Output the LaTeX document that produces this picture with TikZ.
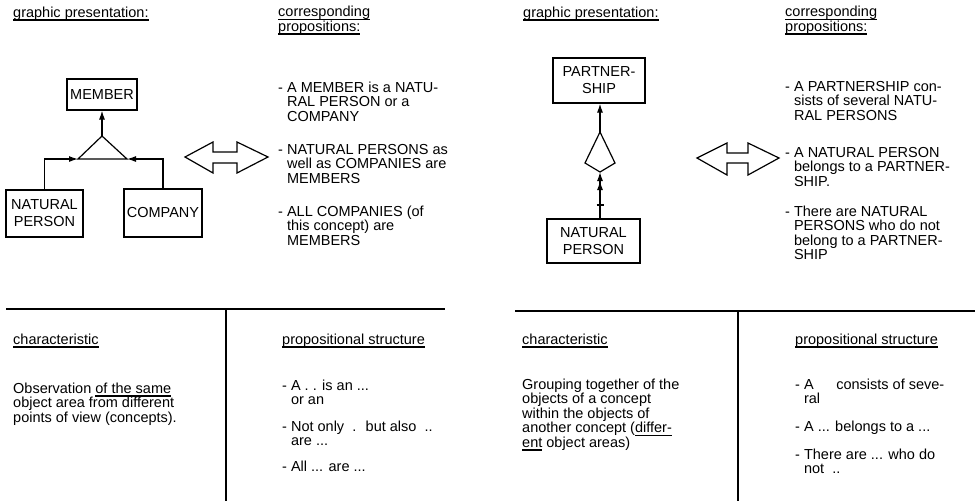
\documentclass[tikz,border=0pt]{standalone}
\usepackage{fontspec}
\setmainfont{Liberation Sans}
\usetikzlibrary{arrows.meta}
% underline drawn a little below the baseline, across the descenders
\newcommand\ulx[1]{\setbox0\hbox{#1}\rlap{\vrule width\wd0 height -2.4pt depth 3.5pt}\box0\relax}
% hanging indent for the continuation lines of a dashed item
\newcommand\hang{\phantom{-\ }}

\begin{document}
% multi-line text nodes are anchored at the baseline of their last line
\begin{tikzpicture}[x=1pt,y=-1pt,
  txt/.style={anchor=base west, inner sep=0pt, align=left, font=\fontsize{14.5}{14.5}\selectfont},
  box/.style={draw, line width=1.2pt, inner sep=0pt, align=center, font=\fontsize{14.5}{17}\selectfont},
  conn/.style={line width=1.2pt},
  arrowin/.style={-{Latex[length=9pt,width=6pt]}},
  twoarrows/.style={-{Latex[length=9pt,width=6pt] Latex[length=9pt,width=6pt]}},
  divider/.style={line width=1.4pt},
  bigarrow/.style={draw, line width=1.2pt, line join=miter}]
\useasboundingbox (0,0) rectangle (975,501);

% ---------------- left example: generalisation ----------------
\node[txt] (gp1) at (13,17) {\ulx{graphic presentation:}};
\node[txt] (cp1) at (278,31) {\ulx{corresponding}\\\ulx{propositions:}};

\node[box, minimum width=70pt, minimum height=31pt] (member) at (102,94.5) {MEMBER};
\node[box, minimum width=77pt, minimum height=47pt] (natp) at (44.5,213.5) {NATURAL\\PERSON};
\node[box, minimum width=78pt, minimum height=48pt] (comp) at (163,213) {COMPANY};

\coordinate (ta) at (102,136);
\coordinate (tl) at (78,159);
\coordinate (tr) at (127,159);
\draw[conn, line join=miter] (ta) -- (tl) -- (tr) -- cycle;
\draw[conn, arrowin] (ta) -- (member.south);
\draw[conn, arrowin] (natp.north) |- (tl);
\draw[conn, arrowin] (comp.north) |- (tr);

\draw[bigarrow] (185,157) -- (213,142) -- (213,152) -- (237,152) -- (237,142)
  -- (268,157) -- (237,173) -- (237,163) -- (213,163) -- (213,173) -- cycle;

\node[txt] (p1a) at (278,121) {-\ A MEMBER is a NATU-\\\hang RAL PERSON or a\\\hang COMPANY};
\node[txt] (p1b) at (278,183) {-\ NATURAL PERSONS as\\\hang well as COMPANIES are\\\hang MEMBERS};
\node[txt] (p1c) at (278,245) {-\ ALL COMPANIES (of\\\hang this concept) are\\\hang MEMBERS};

% ---------------- right example: grouping ----------------
\node[txt] (gp2) at (523,17) {\ulx{graphic presentation:}};
\node[txt] (cp2) at (785,31) {\ulx{corresponding}\\\ulx{propositions:}};

\node[box, minimum width=92pt, minimum height=45pt] (pship) at (599,80.5) {PARTNER-\\SHIP};
\node[box, minimum width=93pt, minimum height=44pt] (natp2) at (593.5,241) {NATURAL\\PERSON};

\coordinate (kt) at (600,132);
\coordinate (kl) at (585,163);
\coordinate (kb) at (600,172);
\coordinate (kr) at (615,163);
\draw[conn, line join=miter] (kt) -- (kl) -- (kb) -- (kr) -- cycle;
\draw[conn, arrowin] (kt) -- (kt |- pship.south);
\draw[conn, twoarrows] (kb |- natp2.north) -- (kb);
\coordinate (tick) at (600,205);
\draw[conn] ([xshift=-3.5pt]tick) -- ([xshift=3.5pt]tick);

\draw[bigarrow] (697,158) -- (727,143) -- (727,153) -- (748,153) -- (748,143)
  -- (779,158) -- (748,175) -- (748,163) -- (727,163) -- (727,175) -- cycle;

\node[txt] (p2a) at (785,120) {-\ A PARTNERSHIP con-\\\hang sists of several NATU-\\\hang RAL PERSONS};
\node[txt] (p2b) at (785,186) {-\ A NATURAL PERSON\\\hang belongs to a PARTNER-\\\hang SHIP.};
\node[txt] (p2c) at (785,259.5) {-\ There are NATURAL\\\hang PERSONS who do not\\\hang belong to a PARTNER-\\\hang SHIP};

% ---------------- lower table ----------------
\coordinate (hl1) at (6,309);
\coordinate (hl2) at (445,309);
\coordinate (hr1) at (515,311);
\coordinate (hr2) at (975,311);
\coordinate (v1t) at (226,309);
\coordinate (v1b) at (226,501);
\coordinate (v2t) at (738,311);
\coordinate (v2b) at (738,501);
\draw[divider] (hl1) -- (hl2);
\draw[divider] (hr1) -- (hr2);
\draw[divider] (v1t) -- (v1b);
\draw[divider] (v2t) -- (v2b);

\node[txt] (ch1) at (13,344) {\ulx{characteristic}};
\node[txt] (ps1) at (282,344) {\ulx{propositional structure}};
\node[txt] (ob1) at (13,422) {Observation \ulx{of the same}\\object area from different\\points of view (concepts).};
\node[txt] (s1a) at (282,404.5) {-\ A . . is an ...\\\hang or an};
\node[txt] (s1b) at (282,445.5) {-\ Not only \ . \ but also \ ..\\\hang are ...};
\node[txt] (s1c) at (282,471) {-\ All ... are ...};

\node[txt] (ch2) at (522,344) {\ulx{characteristic}};
\node[txt] (ps2) at (795,344) {\ulx{propositional structure}};
\node[txt] (ob2) at (522,447) {Grouping together of the\\objects of a concept\\within the objects of\\another concept (\ulx{differ-}\\\ulx{ent} object areas)};
\node[txt] (s2a) at (795,403.5) {-\ A \quad\ consists of seve-\\\hang ral};
\node[txt] (s2b) at (795,431) {-\ A ... belongs to a ...};
\node[txt] (s2c) at (795,473.5) {-\ There are ... who do\\\hang not \ ..};
\end{tikzpicture}
\end{document}
